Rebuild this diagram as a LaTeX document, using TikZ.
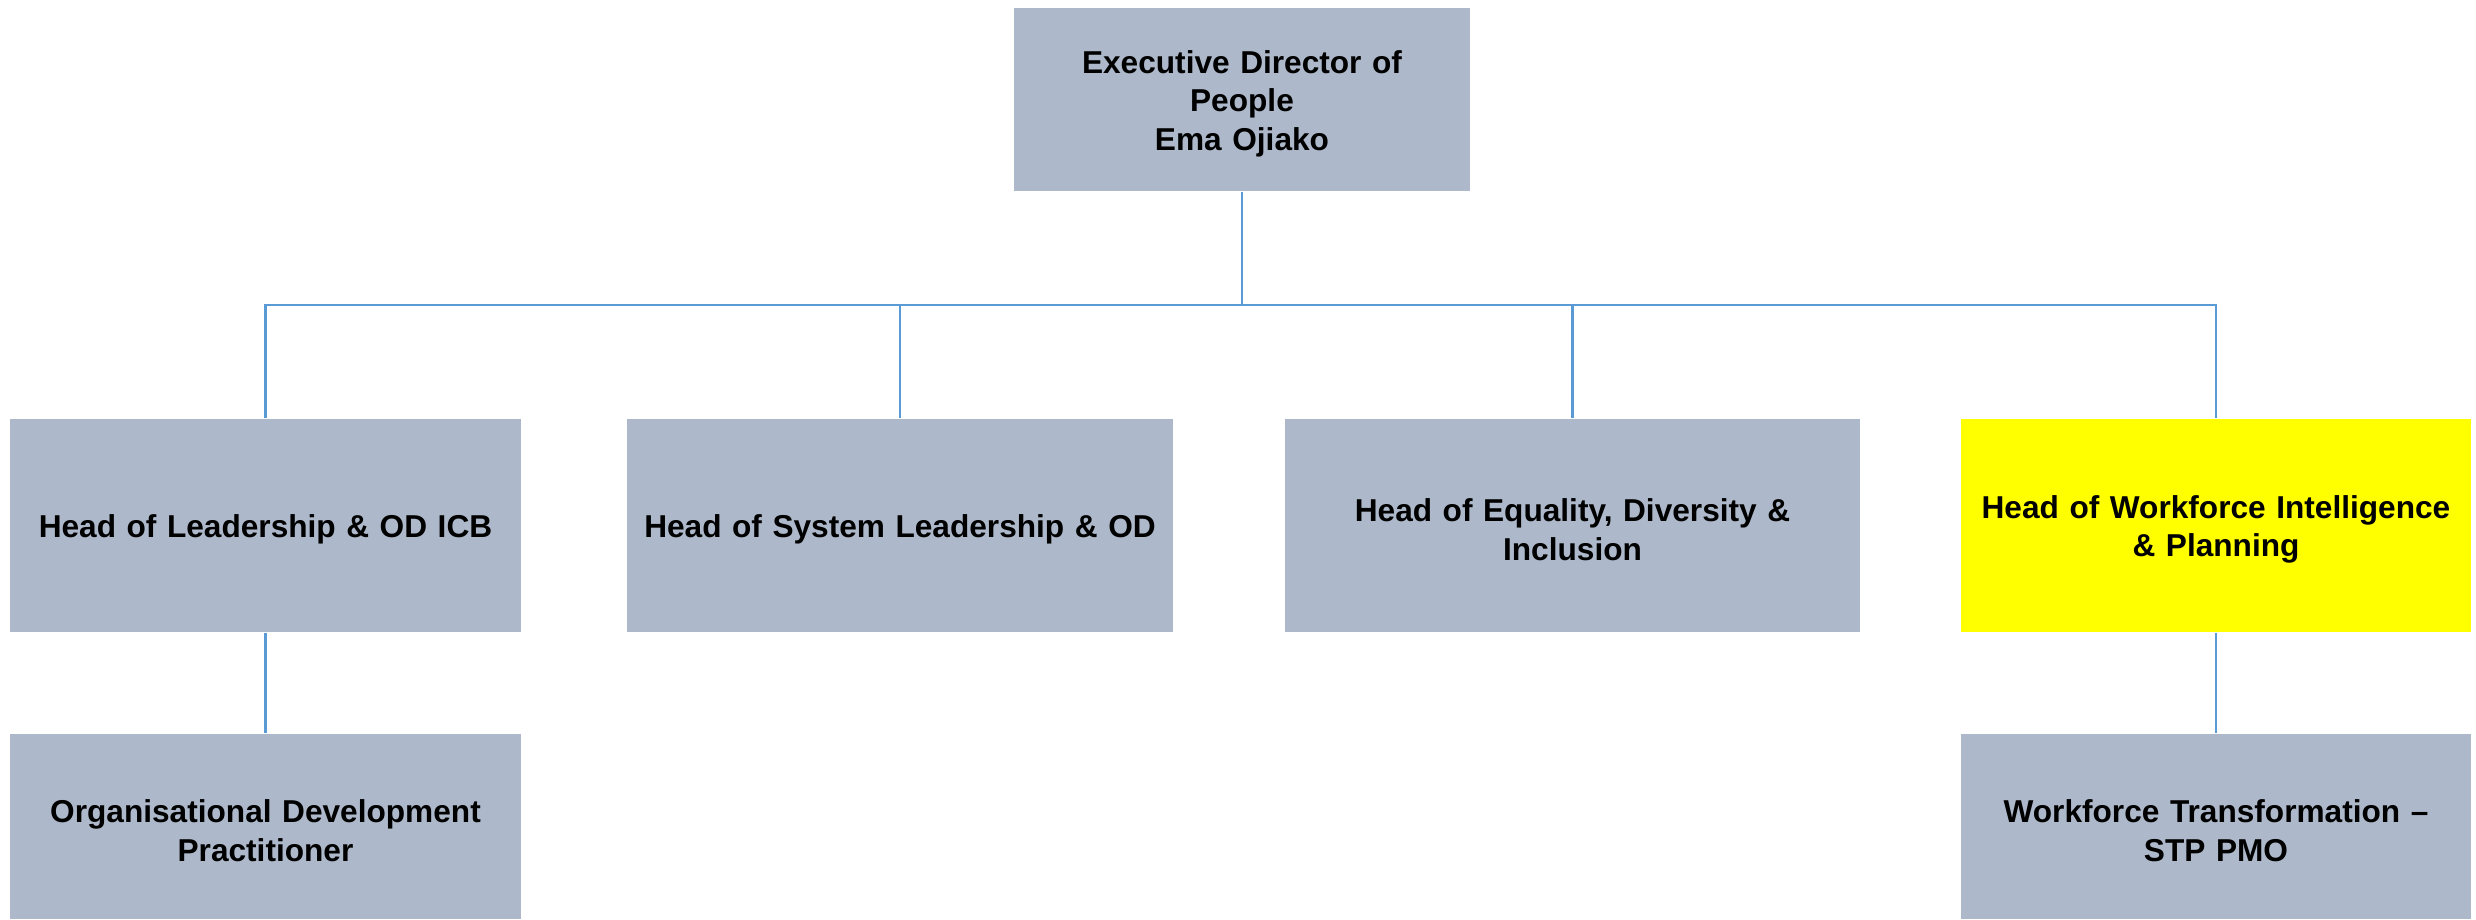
\documentclass[tikz,border=0pt]{standalone}
\usepackage{fontspec}
\setmainfont{Liberation Sans}
\usepackage{xcolor}
\usepackage{tikz}
\usetikzlibrary{positioning}

\definecolor{boxgrey}{HTML}{ADB9CA}
\definecolor{boxyellow}{HTML}{FFFF00}
\definecolor{linkblue}{HTML}{5B9BD5}

\begin{document}
\begin{tikzpicture}[
    x=0.1mm, y=-0.1mm,
    role/.style={rectangle, fill=boxgrey, minimum width=51.1mm, minimum height=21.3mm, text width=50mm, align=center, inner sep=0pt, font=\fontsize{9pt}{10.9pt}\selectfont\bfseries, execute at begin node={\rule{0pt}{3.1mm}}},
    link/.style={draw=linkblue, line width=0.6pt}
]
\useasboundingbox (0,0) rectangle (2476,919);

\node[role, minimum width=45.6mm, text width=44mm, minimum height=18.3mm] (exec) at (1242, 99.5) {Executive Director of\\People\\Ema Ojiako};

\node[role] (leadicb) at (265.5, 525.5) {Head of Leadership \& OD ICB};
\node[role, minimum width=54.6mm, text width=54mm] (sysod) at (900, 525.5) {Head of System Leadership \& OD};
\node[role, minimum width=57.5mm, text width=56mm] (edi) at (1572.5, 525.5) {Head of Equality, Diversity \&\\Inclusion};
\node[role, fill=boxyellow, minimum width=51mm] (wip) at (2216, 525.5) {Head of Workforce Intelligence\\\& Planning};

\node[role, minimum height=18.5mm] (odp) at (265.5, 826.5) {Organisational Development\\Practitioner};
\node[role, minimum width=51mm, minimum height=18.5mm] (wtpmo) at (2216, 826.5) {Workforce Transformation --\\STP PMO};

\coordinate (bus) at (1242, 305);

\draw[link] (exec.south) -- (bus);
\draw[link] (leadicb.north) -- (leadicb.north |- bus) -- (wip.north |- bus) -- (wip.north);
\draw[link] (sysod.north) -- (sysod.north |- bus);
\draw[link] (edi.north) -- (edi.north |- bus);
\draw[link] (leadicb.south) -- (odp.north);
\draw[link] (wip.south) -- (wtpmo.north);

\end{tikzpicture}
\end{document}
